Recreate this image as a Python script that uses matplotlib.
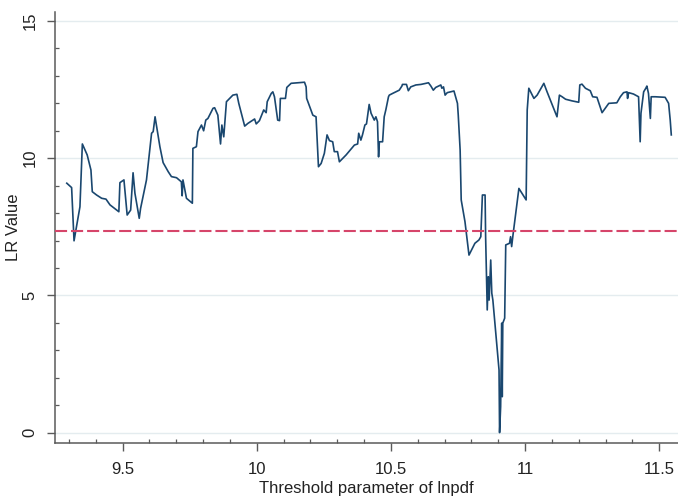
import matplotlib
matplotlib.use("Agg")
import matplotlib.pyplot as plt
from matplotlib.ticker import MultipleLocator

plt.rcParams['font.family'] = ['Liberation Sans', 'DejaVu Sans']

# Threshold grid values (lnpdf) and the LR statistic at each
threshold = [
    9.292, 9.310, 9.319, 9.341, 9.350, 9.368, 9.382, 9.387, 9.403, 9.422,
    9.438, 9.453, 9.486, 9.490, 9.505, 9.517, 9.530, 9.539, 9.546, 9.562,
    9.567, 9.589, 9.608, 9.614, 9.621, 9.639, 9.651, 9.670, 9.682, 9.701,
    9.719, 9.722, 9.725, 9.738, 9.760, 9.762, 9.775, 9.781, 9.794, 9.802,
    9.810, 9.818, 9.837, 9.843, 9.855, 9.865, 9.870, 9.877, 9.887, 9.911,
    9.926, 9.933, 9.955, 9.967, 9.992, 9.998, 10.010, 10.026, 10.035, 10.039,
    10.054, 10.060, 10.066, 10.078, 10.085, 10.088, 10.107, 10.112, 10.128, 10.178,
    10.184, 10.186, 10.209, 10.221, 10.230, 10.240, 10.252, 10.262, 10.271, 10.283,
    10.289, 10.301, 10.308, 10.333, 10.364, 10.376, 10.380, 10.388, 10.394, 10.403,
    10.409, 10.419, 10.426, 10.438, 10.444, 10.450, 10.454, 10.457, 10.469, 10.475,
    10.481, 10.491, 10.494, 10.506, 10.531, 10.541, 10.543, 10.558, 10.565, 10.574,
    10.593, 10.612, 10.631, 10.640, 10.649, 10.658, 10.667, 10.686, 10.690, 10.696,
    10.702, 10.710, 10.735, 10.748, 10.751, 10.758, 10.762, 10.776, 10.791, 10.813,
    10.828, 10.835, 10.841, 10.851, 10.853, 10.859, 10.863, 10.866, 10.872, 10.876,
    10.880, 10.903, 10.905, 10.909, 10.913, 10.915, 10.917, 10.924, 10.928, 10.942,
    10.946, 10.950, 10.955, 10.962, 10.977, 11.004, 11.008, 11.014, 11.033, 11.045,
    11.070, 11.082, 11.119, 11.128, 11.138, 11.151, 11.175, 11.200, 11.204, 11.212,
    11.225, 11.243, 11.252, 11.268, 11.287, 11.312, 11.342, 11.355, 11.367, 11.380,
    11.382, 11.386, 11.404, 11.423, 11.429, 11.432, 11.442, 11.450, 11.454, 11.460,
    11.467, 11.470, 11.485, 11.522, 11.535, 11.541, 11.545,
]
lr_value = [
    9.09, 8.93, 6.99, 8.23, 10.52, 10.12, 9.57, 8.78, 8.66, 8.54,
    8.51, 8.30, 8.05, 9.11, 9.21, 7.93, 8.11, 9.47, 8.72, 7.81,
    8.17, 9.21, 10.91, 10.97, 11.51, 10.42, 9.84, 9.51, 9.33, 9.29,
    9.14, 8.63, 9.21, 8.54, 8.36, 10.36, 10.42, 10.97, 11.21, 11.00,
    11.39, 11.45, 11.82, 11.84, 11.57, 10.52, 11.21, 10.78, 12.06, 12.30,
    12.33, 12.00, 11.17, 11.27, 11.43, 11.25, 11.37, 11.76, 11.66, 12.06,
    12.36, 12.42, 12.24, 11.39, 11.37, 12.18, 12.18, 12.58, 12.73, 12.77,
    12.60, 12.18, 11.57, 11.51, 9.69, 9.81, 10.18, 10.85, 10.64, 10.60,
    10.24, 10.24, 9.87, 10.12, 10.48, 10.52, 10.91, 10.66, 10.85, 11.21,
    11.25, 11.96, 11.64, 11.39, 11.51, 11.33, 10.05, 10.60, 10.60, 11.51,
    11.76, 12.24, 12.30, 12.36, 12.48, 12.63, 12.69, 12.69, 12.46, 12.60,
    12.67, 12.69, 12.73, 12.75, 12.63, 12.48, 12.58, 12.67, 12.55, 12.60,
    12.30, 12.39, 12.45, 12.00, 11.57, 10.30, 8.48, 7.69, 6.47, 6.90,
    7.02, 7.14, 8.66, 8.66, 7.14, 4.47, 5.68, 4.83, 6.29, 5.08,
    4.83, 2.28, 0.00, 0.95, 3.99, 1.31, 3.99, 4.17, 6.84, 6.90,
    7.14, 6.78, 7.20, 7.75, 8.90, 8.48, 11.76, 12.55, 12.18, 12.30,
    12.73, 12.42, 11.51, 12.30, 12.24, 12.15, 12.09, 12.04, 12.67, 12.70,
    12.55, 12.46, 12.24, 12.22, 11.66, 12.00, 12.02, 12.24, 12.39, 12.42,
    12.18, 12.39, 12.34, 12.24, 10.60, 11.64, 12.42, 12.55, 12.63, 12.36,
    11.45, 12.24, 12.24, 12.22, 12.00, 11.39, 10.85,
]

critical_value = 7.35
x_ticks = [9.5, 10, 10.5, 11, 11.5]
x_tick_labels = ["9.5", "10", "10.5", "11", "11.5"]
y_ticks = [0, 5, 10, 15]
y_tick_labels = ["0", "5", "10", "15"]

fig = plt.figure(figsize=(6.78, 4.98), dpi=100)
ax = fig.add_axes([0.0811, 0.1098, 0.9189, 0.8667])

ax.plot(threshold, lr_value, color="#1a476f", lw=1.2, zorder=3)
ax.axhline(critical_value, color="#d6456a", lw=1.5, dashes=(5.8, 1.9), zorder=4)

ax.set_xlim(9.248, 11.57)
ax.set_ylim(-0.39, 15.34)

ax.set_xticks(x_ticks)
ax.set_xticklabels(x_tick_labels)
ax.set_yticks(y_ticks)
ax.set_yticklabels(y_tick_labels, rotation=90, va="center")
ax.xaxis.set_minor_locator(MultipleLocator(0.1))
ax.yaxis.set_minor_locator(MultipleLocator(1))

spine_color = "#5a5a5a"
for side in ("top", "right"):
    ax.spines[side].set_visible(False)
for side in ("left", "bottom"):
    ax.spines[side].set_color(spine_color)
    ax.spines[side].set_linewidth(1.1)

ax.tick_params(which="major", direction="out", length=5.5, width=1.0,
               color=spine_color, labelsize=12, labelcolor="#222222")
ax.tick_params(axis="x", which="major", pad=8)
ax.tick_params(axis="y", which="major", pad=7)
ax.tick_params(which="minor", direction="in", length=3, width=0.9,
               color=spine_color)

ax.yaxis.grid(True, which="major", color="#e4ecef", lw=1.0, zorder=0)
ax.set_axisbelow(True)

ax.set_xlabel("Threshold parameter of lnpdf", fontsize=12, color="#222222", labelpad=3)
ax.set_ylabel("LR Value", fontsize=12, color="#222222", labelpad=1)

fig.savefig("out.png", dpi=100)
